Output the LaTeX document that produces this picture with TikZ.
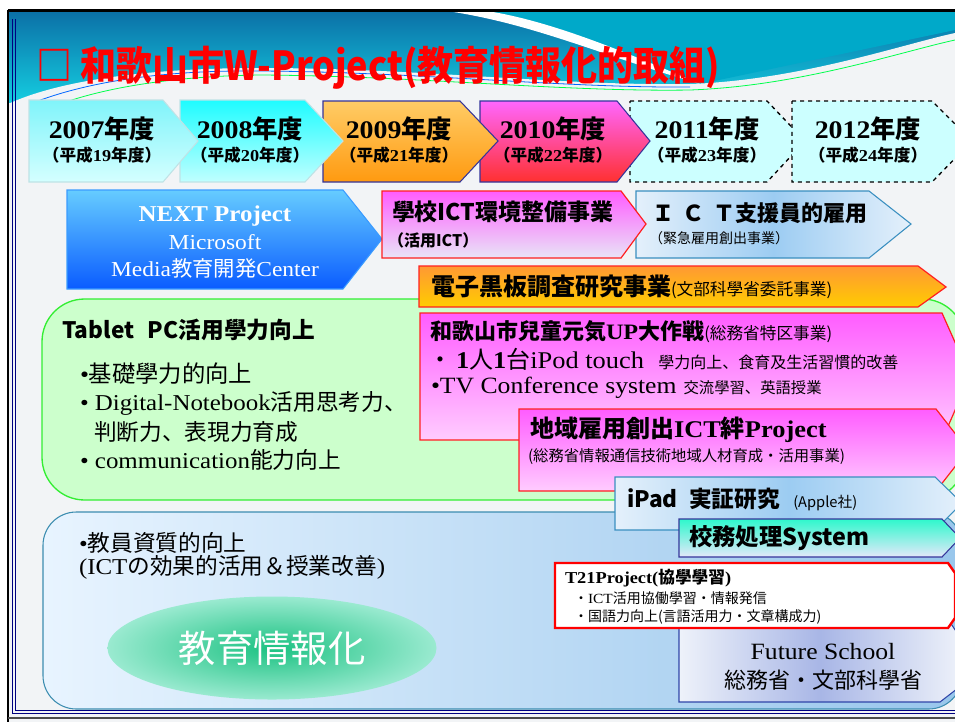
\documentclass[tikz,border=0pt]{standalone}
\usepackage{fontspec}
\usepackage{graphicx}
\setmainfont{Liberation Serif}[FakeStretch=1.1]
\newfontfamily\cjk{Noto Sans CJK JP}
\newcommand\jj[1]{{\cjk #1}}
\newcommand\fs[1]{\fontsize{#1}{#1}\selectfont}
\usetikzlibrary{shapes.geometric}
\definecolor{bgc}{HTML}{F2F4F6}
\definecolor{bnTop}{HTML}{0B6FA6}
\definecolor{bnBot}{HTML}{14CCE0}
\definecolor{bnTeal}{HTML}{00A9C9}
\definecolor{aAt}{HTML}{80F4FA}
\definecolor{aAb}{HTML}{D4FFFF}
\definecolor{aAd}{HTML}{BFE3E6}
\definecolor{aBt}{HTML}{1EFCFF}
\definecolor{aBb}{HTML}{C0FFFF}
\definecolor{aCt}{HTML}{FFCC66}
\definecolor{aCb}{HTML}{FF9A10}
\definecolor{navy}{HTML}{35359A}
\definecolor{aDt}{HTML}{FF66FF}
\definecolor{aDb}{HTML}{FF3030}
\definecolor{aE}{HTML}{CCFFFF}
\definecolor{nxT}{HTML}{66CCFF}
\definecolor{nxB}{HTML}{0A5CFF}
\definecolor{nxD}{HTML}{3A9BFF}
\definecolor{mgT}{HTML}{FF5CFF}
\definecolor{lavB}{HTML}{E8E4F6}
\definecolor{pkB}{HTML}{FFCCFF}
\definecolor{rd}{HTML}{FF2020}
\definecolor{lbL}{HTML}{E4F0FB}
\definecolor{lbM}{HTML}{9CCCF2}
\definecolor{stl}{HTML}{3A8FC0}
\definecolor{orT}{HTML}{FF9933}
\definecolor{orB}{HTML}{FFCC00}
\definecolor{grF}{HTML}{CCFFCC}
\definecolor{grD}{HTML}{33EE33}
\definecolor{tqT}{HTML}{2EF8CC}
\definecolor{tqB}{HTML}{E4E8FA}
\definecolor{bbL}{HTML}{E8F4FF}
\definecolor{bbR}{HTML}{98C6EC}
\definecolor{bbD}{HTML}{3C8DB0}
\definecolor{fuM}{HTML}{A8B6E6}
\definecolor{fuL}{HTML}{EEF2FA}
\definecolor{fuD}{HTML}{2F45A8}
\definecolor{elI}{HTML}{1CC282}
\definecolor{elO}{HTML}{9AEAD0}
\begin{document}
\begin{tikzpicture}[x=0.75pt,y=-0.75pt,
  txt/.style={inner sep=0pt,outer sep=0pt},
  lt/.style={txt,anchor=west},
  ct/.style={txt,anchor=center},
  yearbox/.style={line width=0.8pt},
  dashbox/.style={draw=black,dashed,line width=1pt,fill=aE}]
\useasboundingbox (0,0) rectangle (955,722);
\clip (0,0) rectangle (955,722);
% background
\fill[white] (0,0) rectangle (955,722);
\fill[bgc] (8,10) rectangle (955,722);
% banner
\shade[top color=bnTop,bottom color=bnBot] (8,10) rectangle (955,102);
\fill[bnTeal] (450,10) .. controls (540,25) and (620,60) .. (700,84) -- (955,30) -- (955,10) -- cycle;
\fill[bgc] (8,104) .. controls (60,80) and (150,68) .. (260,68) .. controls (420,68) and (560,86) .. (690,84) .. controls (800,80) and (900,45) .. (955,33) -- (955,104) -- cycle;
\fill[white] (440,10) .. controls (530,22) and (600,55) .. (700,84) .. controls (610,45) and (540,18) .. (480,10) -- cycle;
\draw[blue!60!cyan,line width=0.6pt] (30,104) .. controls (90,80) and (170,70) .. (260,71) .. controls (420,72) and (560,88) .. (690,87);
\draw[green!70!cyan,line width=0.6pt] (60,104) .. controls (110,86) and (180,76) .. (260,75) .. controls (420,76) and (560,92) .. (690,90) .. controls (800,86) and (900,52) .. (955,40);
% frame
\draw[black,line width=1.8pt] (8,10.5) -- (955,10.5);
\draw[black,line width=1.8pt] (8,10) -- (8,722);
\draw[blue!50!black,line width=0.6pt] (12,19) -- (12,713) -- (955,713);
\draw[blue!50!black,line width=0.6pt] (15,19) -- (15,710) -- (955,710);
\draw[black!70,line width=1pt] (8,718) -- (955,718);
% title
\node[lt,text=red] (title) at (36,68) {\scalebox{0.9}[1]{\cjk\bfseries\fs{30}□ 和歌山市W-Project(教育情報化的取組)}};
% timeline arrows
\path[dashbox] (630,101) -- (767,101) -- (805,141) -- (767,182) -- (630,182) -- cycle;
\path[dashbox] (792,101) -- (932,101) -- (972,141) -- (932,182) -- (792,182) -- cycle;
\shade[top color=aDt,bottom color=aDb,draw=navy,yearbox] (480,101) -- (617,101) -- (650,141) -- (617,182) -- (480,182) -- cycle;
\shade[top color=aCt,bottom color=aCb,draw=navy,yearbox] (323,101) -- (460,101) -- (498,141) -- (460,182) -- (323,182) -- cycle;
\shade[top color=aBt,bottom color=aBb,draw=aAd,yearbox] (180,100) -- (305,100) -- (343,141) -- (305,182) -- (180,182) -- cycle;
\shade[top color=aAt,bottom color=aAb,draw=aAd,yearbox] (29,100) -- (163,100) -- (198,141) -- (163,182) -- (29,182) -- cycle;
\node[ct] (y1) at (102,129) {\fs{19}\bfseries 2007\jj{年度}};
\node[ct] (y1b) at (102,155) {\fs{12.5}\bfseries\jj{（平成}19\jj{年度）}};
\node[ct] (y2) at (250,129) {\fs{19}\bfseries 2008\jj{年度}};
\node[ct] (y2b) at (250,155) {\fs{12.5}\bfseries\jj{（平成}20\jj{年度）}};
\node[ct] (y3) at (399,129) {\fs{19}\bfseries 2009\jj{年度}};
\node[ct] (y3b) at (399,155) {\fs{12.5}\bfseries\jj{（平成}21\jj{年度）}};
\node[ct] (y4) at (553,129) {\fs{19}\bfseries 2010\jj{年度}};
\node[ct] (y4b) at (553,155) {\fs{12.5}\bfseries\jj{（平成}22\jj{年度）}};
\node[ct] (y5) at (707,129) {\fs{19}\bfseries 2011\jj{年度}};
\node[ct] (y5b) at (707,155) {\fs{12.5}\bfseries\jj{（平成}23\jj{年度）}};
\node[ct] (y6) at (868,129) {\fs{19}\bfseries 2012\jj{年度}};
\node[ct] (y6b) at (868,155) {\fs{12.5}\bfseries\jj{（平成}24\jj{年度）}};
% row 2
\shade[top color=nxT,bottom color=nxB,draw=nxD,line width=0.8pt] (67,190) -- (343,190) -- (382,239) -- (343,289) -- (67,289) -- cycle;
\node[ct,text=white] (nx1) at (215,216) {\fs{17}\bfseries NEXT Project};
\node[ct,text=white] (nx2) at (215,242) {\fs{16}Microsoft};
\node[ct,text=white] (nx3) at (215,268) {\fs{16}Media\jj{教育開発}Center};
\shade[left color=lbL,right color=lbL,middle color=lbM,draw=stl,line width=0.8pt] (636,191) -- (869,191) -- (911,224) -- (869,258) -- (636,258) -- cycle;
\shade[top color=mgT,bottom color=lavB,draw=rd,line width=0.9pt] (382,191) -- (621,191) -- (646,224) -- (621,258) -- (382,258) -- cycle;
\node[lt] (sc1) at (392,212) {\cjk\bfseries\fs{17.2}學校ICT環境整備事業};
\node[lt] (sc2) at (388,240) {\cjk\bfseries\fs{12}（活用ICT）};
\node[lt] (ic1) at (652,213) {\cjk\bfseries\fs{16.5}Ｉ\hspace{0.4em}Ｃ\hspace{0.4em}Ｔ支援員的雇用};
\node[lt] (ic2) at (649,238) {\cjk\fs{10.5}（緊急雇用創出事業）};
% boxes
\draw[fill=grF,draw=grD,line width=1pt,rounded corners=32] (42,299) rectangle (965,500);
\shade[left color=bbL,right color=bbR,draw=bbD,line width=0.8pt,rounded corners=25] (43,512) rectangle (962,709);
\shade[top color=orT,bottom color=orB,draw=rd,line width=0.9pt] (419,266) -- (918,266) -- (946,287) -- (918,307) -- (419,307) -- cycle;
\node[lt] (dk) at (431,287) {\cjk\bfseries\fs{18}電子黒板調査研究事業{\mdseries\fs{12.5}(文部科學省委託事業)}};
\node[lt] (tb) at (62,330) {\cjk\bfseries\fs{17}Tablet\hspace{0.6em}PC活用學力向上};
\node[lt] (g1) at (80,374) {\fs{17.5}•\jj{基礎學力的向上}};
\node[lt] (g2) at (80,403) {\fs{17}• Digital-Notebook\jj{活用思考力、}};
\node[lt] (g3) at (94,432) {\fs{17}\jj{判断力、表現力育成}};
\node[lt] (g4) at (80,460) {\fs{17}• communication\jj{能力向上}};
\shade[top color=mgT,bottom color=pkB,draw=rd,line width=0.9pt] (420,313) -- (942,313) -- (970,376) -- (942,440) -- (420,440) -- cycle;
\node[lt] (m1) at (430,332) {\fs{16.5}{\bfseries\jj{和歌山市兒童元気}UP\jj{大作戦}}{\fs{12.5}\jj{(総務省特区事業)}}};
\node[lt] (m2) at (428,359) {\fs{18}\jj{・}\,{\bfseries 1}\jj{人}{\bfseries 1}\jj{台}iPod touch\hspace{0.6em}{\fs{12}\jj{學力向上、食育及生活習慣的改善}}};
\node[lt] (m3) at (431,388) {\fs{17.5}•TV Conference system\hspace{0.3em}{\fs{11.5}\jj{交流學習、英語授業}}};
\shade[top color=mgT,bottom color=pkB,draw=rd,line width=0.9pt] (519,409) -- (936,409) -- (968,450) -- (936,491) -- (519,491) -- cycle;
\node[lt] (p1) at (530,430) {\fs{18}\bfseries\jj{地域雇用創出}ICT\jj{絆}Project};
\node[lt] (p2) at (528,457) {\fs{11.5}\jj{(総務省情報通信技術地域人材育成・活用事業)}};
\shade[left color=lbL,right color=lbL,middle color=lbM,draw=stl,line width=0.8pt] (615,477) -- (935,477) -- (962,503) -- (935,530) -- (615,530) -- cycle;
\node[lt] (ip) at (627,499) {\cjk\bfseries\fs{17}iPad\hspace{0.5em}実証研究\hspace{0.6em}{\mdseries\fs{11}(Apple社)}};
\shade[top color=tqT,bottom color=tqB,draw=navy,line width=0.8pt] (679,519) -- (942,519) -- (960,538) -- (942,557) -- (679,557) -- cycle;
\node[lt] (km) at (689,538) {\cjk\bfseries\fs{17.5}校務処理System};
% bottom box
\node[txt,anchor=base west,align=left,font={\fontsize{17}{17.2}\selectfont}] (b1) at (79,574) {•\jj{教員資質的向上}\\(ICT\jj{の効果的活用＆授業改善})};
\node[ellipse,inner color=elI,outer color=elO,minimum width=246.75pt,minimum height=77.25pt,text=white,inner sep=0pt] (el) at (272,648) {\fs{28}\jj{教育情報化}};
\shade[left color=fuL,right color=fuL,middle color=fuM,draw=fuD,line width=0.8pt] (679,615) -- (945,615) -- (962,640) -- (962,685) -- (940,702) -- (679,702) -- cycle;
\node[ct] (fu1) at (823,652) {\fs{17.5}Future School};
\node[ct] (fu2) at (823,680) {\fs{16.5}\jj{総務省・文部科學省}};
\draw[fill=white,draw=red,line width=1.8pt] (555,563) -- (948,563) -- (955,573) -- (955,618) -- (948,628) -- (555,628) -- cycle;
\node[lt] (t1) at (565,578) {\fs{12.5}\bfseries T21Project(\jj{協學學習})};
\node[lt] (t2) at (574,598) {\fs{10.5}\jj{・}ICT\jj{活用協働學習・情報発信}};
\node[lt] (t3) at (574,617) {\fs{10.5}\jj{・国語力向上(言語活用力・文章構成力)}};
\end{tikzpicture}
\end{document}
